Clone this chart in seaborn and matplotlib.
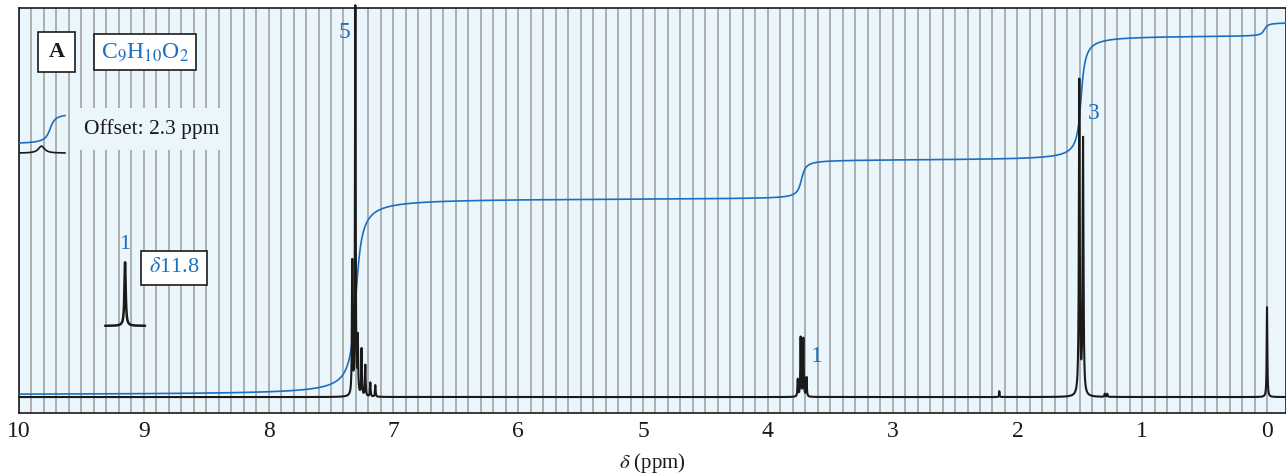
import numpy as np
import pandas as pd
import seaborn as sns
import matplotlib.pyplot as plt

# peak list (ppm, relative height, half width)
peak_ppm = [7.330, 7.305, 7.285, 7.255, 7.225, 7.185, 7.145,
            3.760, 3.737, 3.715, 3.690, 2.145, 1.504, 1.474, 1.300, 1.280, 0.000]
peak_height = [0.34, 1.00, 0.14, 0.12, 0.08, 0.036, 0.03,
               0.044, 0.152, 0.149, 0.049, 0.015, 0.807, 0.655, 0.008, 0.008, 0.231]
peak_width = [0.003, 0.003, 0.003, 0.003, 0.003, 0.003, 0.003,
              0.003, 0.003, 0.003, 0.003, 0.002, 0.004, 0.004, 0.003, 0.003, 0.003]

# integral steps (ppm, step size, width)
step_ppm = [7.30, 3.73, 1.49, 0.02]
step_size = [0.505, 0.10, 0.32, 0.035]
step_width = [0.035, 0.025, 0.025, 0.02]
integral_base = 0.005

integral_labels = ["5", "1", "3"]
integral_label_ppm = [7.39, 3.61, 1.39]
integral_label_y = [0.938, 0.103, 0.730]

# offset peak (delta 11.8 drawn with 2.3 ppm offset)
offset_ppm = 9.15
offset_base = 0.183
offset_height = 0.164

tick_values = [10, 9, 8, 7, 6, 5, 4, 3, 2, 1, 0]

BLUE = "#1a6fc0"
BG = "#ebf6fc"

sns.set_theme(style="white")
plt.rcParams["font.family"] = ["Liberation Serif", "DejaVu Serif"]
plt.rcParams["mathtext.fontset"] = "stix"

x = np.linspace(-0.15, 10.0, 40000)
spec = np.zeros_like(x)
for p, h, w in zip(peak_ppm, peak_height, peak_width):
    spec += h / (1 + ((x - p) / w) ** 2)
integ = np.full_like(x, integral_base)
for p, s, w in zip(step_ppm, step_size, step_width):
    integ += s * (np.arctan((p - x) / w) / np.pi + 0.5)

df = pd.DataFrame({"ppm": x, "spectrum": spec, "integral": integ})

fig = plt.figure(figsize=(12.86, 4.73), dpi=100)
ax = fig.add_axes([19 / 1286, 1 - 413 / 473, 1 - 19 / 1286, (413 - 8) / 473])
ax.set_facecolor(BG)

for g in np.arange(0, 101) / 10:
    ax.axvline(g, color="#9c9c9c", lw=1.1, zorder=0)

sns.lineplot(data=df, x="ppm", y="integral", color=BLUE, lw=1.2, ax=ax, zorder=3)
sns.lineplot(data=df, x="ppm", y="spectrum", color="#1a1a1a", lw=1.5, ax=ax, zorder=4)
ax.lines[-1].set_clip_on(False)

# inset peak
xi = np.linspace(9.31, 8.99, 400)
inset = pd.DataFrame({"ppm": xi,
                      "y": offset_base + offset_height / (1 + ((xi - offset_ppm) / 0.006) ** 2)})
sns.lineplot(data=inset, x="ppm", y="y", color="#1a1a1a", lw=1.8, ax=ax, zorder=4)

# partial offset trace at top left
xo = np.linspace(10.0, 9.63, 300)
off = pd.DataFrame({"ppm": xo,
                    "spec": 0.627 + 0.018 / (1 + ((xo - 9.82) / 0.03) ** 2),
                    "integ": 0.650 + 0.08 * (np.arctan((9.75 - xo) / 0.03) / np.pi + 0.5)})
sns.lineplot(data=off, x="ppm", y="spec", color="#1a1a1a", lw=1.2, ax=ax, zorder=4)
sns.lineplot(data=off, x="ppm", y="integ", color=BLUE, lw=1.2, ax=ax, zorder=3)

ax.set_xlim(10, -0.152)
ax.set_ylim(-0.041, 1.0)
ax.set_yticks([])
ax.set_xticks(tick_values)
ax.set_xticklabels([str(t) for t in tick_values])
ax.tick_params(axis="x", length=0, pad=6, labelsize=17, colors="#1a1a1a")
ax.set_xlabel(r"$\delta$ (ppm)", fontsize=15, color="#1a1a1a", labelpad=6)
ax.set_ylabel("")
for s in ax.spines.values():
    s.set_color("#1a1a1a")
    s.set_linewidth(1.2)

for lab, px, py in zip(integral_labels, integral_label_ppm, integral_label_y):
    ax.text(px, py, lab, color=BLUE, fontsize=17, ha="center", va="center", zorder=6)

ax.text(9.15, 0.391, "1", color=BLUE, fontsize=16, ha="center", va="center", zorder=6)
ax.text(8.76, 0.332, r"$\delta$11.8", color=BLUE, fontsize=16, ha="center", va="center", zorder=6,
        bbox=dict(boxstyle="square,pad=0.35", fc="white", ec="#1a1a1a", lw=1.2))
ax.text(9.70, 0.888, "A", color="#1a1a1a", fontsize=16, fontweight="bold", ha="center", va="center",
        zorder=6, bbox=dict(boxstyle="square,pad=0.45", fc="white", ec="#1a1a1a", lw=1.2))
ax.text(8.99, 0.887, r"C$_9$H$_{10}$O$_2$", color=BLUE, fontsize=17, ha="center", va="center",
        zorder=6, bbox=dict(boxstyle="square,pad=0.3", fc="white", ec="#1a1a1a", lw=1.2))
ax.text(9.48, 0.689, "Offset: 2.3 ppm", color="#1a1a1a", fontsize=15.5, ha="left", va="center",
        zorder=6, bbox=dict(boxstyle="square,pad=0.5", fc=BG, ec="none"))

fig.savefig("out.png", dpi=100)
